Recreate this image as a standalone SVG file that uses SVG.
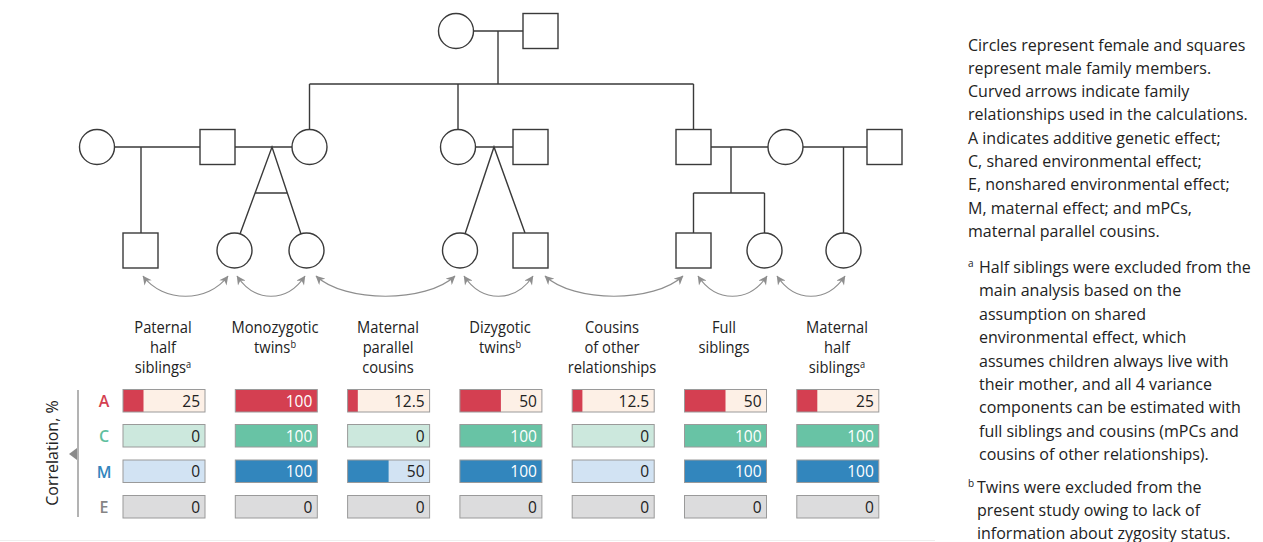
<svg xmlns="http://www.w3.org/2000/svg" width="1263" height="542" viewBox="0 0 1263 542">
<style>
.nd{fill:#fff;stroke:#3a3a3a;stroke-width:1.4}
.ln{fill:none;stroke:#3a3a3a;stroke-width:1.4}
.arr{fill:none;stroke:#8e8e8e;stroke-width:1.2;marker-start:url(#ah);marker-end:url(#ah)}
.lbl{font-family:"Open Sans","Noto Sans",sans-serif;font-size:16px;fill:#222;text-anchor:middle}
.sup{font-size:10px}
.note{font-family:"Open Sans","Noto Sans",sans-serif;font-size:16px;fill:#222}
.val{font-family:"Open Sans","Noto Sans",sans-serif;font-size:15.5px;text-anchor:end}
.dk{fill:#222}
.wt{fill:#fff}
.row{font-family:"Open Sans","Noto Sans",sans-serif;font-size:16px;font-weight:600;text-anchor:middle}
.bx{stroke:#9a9a9a;stroke-width:1}
.aL{fill:#fdf0e6}.aF{fill:#d43f51}
.cL{fill:#cce8dd}.cF{fill:#68c3a5}
.mL{fill:#d2e3f3}.mF{fill:#3286bd}
.eL{fill:#dcdcdd}
</style>
<defs>
<marker id="ah" viewBox="0 0 10 10" refX="9.5" refY="5" markerWidth="10" markerHeight="9" markerUnits="userSpaceOnUse" orient="auto-start-reverse">
<path d="M0,0 L10,5 L0,10 L3,5 z" fill="#8e8e8e"/>
</marker>
</defs>
<rect width="1263" height="542" fill="#fff"/>
<line x1="0" y1="540.5" x2="935" y2="540.5" stroke="#eeeeee" stroke-width="1"/>

<g id="connectors">
<path class="ln" d="M473.5,31 H523 M498,31 V84 M309.5,84 H693.5 M309.5,84 V129.5 M458,84 V129.5 M693.5,84 V129.5"/>
<path class="ln" d="M114.5,147 H200 M141,147 V233 M235,147 H292"/>
<path class="ln" d="M240,234 L272,147 L301,234 M255.1,193 H287.3"/>
<path class="ln" d="M475.5,147 H513 M465,234 L494,147 L525,233"/>
<path class="ln" d="M711,147 H768 M731,147 V193 M693.5,193 H764.5 M693.5,193 V233 M764.5,193 V233 M803,147 H867 M843.5,147 V233"/>
<path class="arr" d="M143,276 C163,303 208,303 228,276"/>
<path class="arr" d="M237,276 C255,303 287,303 305,276"/>
<path class="arr" d="M316,276 C345,303 426,303 455,276"/>
<path class="arr" d="M464,276 C482,303 515,303 533,276"/>
<path class="arr" d="M545,276 C574,303 654,303 683,276"/>
<path class="arr" d="M698,276 C716,303 749,303 767,276"/>
<path class="arr" d="M777,276 C795,303 827,303 845,276"/>
</g>

<g id="gp-f"><circle class="nd" cx="456" cy="31" r="17.5"/></g>
<g id="gp-m"><rect class="nd" x="523" y="13.5" width="35" height="35"/></g>
<g id="p1-f"><circle class="nd" cx="97" cy="147" r="17.5"/></g>
<g id="p1-m"><rect class="nd" x="200" y="129.5" width="35" height="35"/></g>
<g id="p2-f"><circle class="nd" cx="309.5" cy="147" r="17.5"/></g>
<g id="p3-f"><circle class="nd" cx="458" cy="147" r="17.5"/></g>
<g id="p3-m"><rect class="nd" x="513" y="129.5" width="35" height="35"/></g>
<g id="p4-m"><rect class="nd" x="676" y="129.5" width="35" height="35"/></g>
<g id="p4-f"><circle class="nd" cx="785.5" cy="147" r="17.5"/></g>
<g id="p5-m"><rect class="nd" x="867" y="129.5" width="35" height="35"/></g>
<g id="c1"><rect class="nd" x="123" y="233" width="35" height="35"/></g>
<g id="c2"><circle class="nd" cx="234.5" cy="250.5" r="17.5"/></g>
<g id="c3"><circle class="nd" cx="306.5" cy="250.5" r="17.5"/></g>
<g id="c4"><circle class="nd" cx="460" cy="250.5" r="17.5"/></g>
<g id="c5"><rect class="nd" x="513" y="233" width="35" height="35"/></g>
<g id="c6"><rect class="nd" x="676" y="233" width="35" height="35"/></g>
<g id="c7"><circle class="nd" cx="764.5" cy="250.5" r="17.5"/></g>
<g id="c8"><circle class="nd" cx="843.5" cy="250.5" r="17.5"/></g>

<g id="labels">
<text class="lbl" transform="translate(163,333) scale(0.92,1)"><tspan x="0" y="0">Paternal</tspan><tspan x="0" y="20">half</tspan><tspan x="0" y="40">siblings<tspan class="sup" dy="-5">a</tspan></tspan></text>
<text class="lbl" transform="translate(275,333) scale(0.92,1)"><tspan x="0" y="0">Monozygotic</tspan><tspan x="0" y="20.5">twins<tspan class="sup" dy="-5">b</tspan></tspan></text>
<text class="lbl" transform="translate(388,333) scale(0.92,1)"><tspan x="0" y="0">Maternal</tspan><tspan x="0" y="20">parallel</tspan><tspan x="0" y="40">cousins</tspan></text>
<text class="lbl" transform="translate(500,333) scale(0.92,1)"><tspan x="0" y="0">Dizygotic</tspan><tspan x="0" y="20.5">twins<tspan class="sup" dy="-5">b</tspan></tspan></text>
<text class="lbl" transform="translate(612,333) scale(0.92,1)"><tspan x="0" y="0">Cousins</tspan><tspan x="0" y="20">of other</tspan><tspan x="0" y="40">relationships</tspan></text>
<text class="lbl" transform="translate(724,333) scale(0.92,1)"><tspan x="0" y="0">Full</tspan><tspan x="0" y="20">siblings</tspan></text>
<text class="lbl" transform="translate(837,333) scale(0.92,1)"><tspan x="0" y="0">Maternal</tspan><tspan x="0" y="20">half</tspan><tspan x="0" y="40">siblings<tspan class="sup" dy="-5">a</tspan></tspan></text>
</g>

<g id="axis">
<line x1="78" y1="390" x2="78" y2="517" stroke="#9a9a9a" stroke-width="1.5"/>
<path d="M69,454 L77,448 L77,460 z" fill="#8a8a8a"/>
<text transform="translate(58,453) rotate(-90)" text-anchor="middle" font-family="'Open Sans','Noto Sans',sans-serif" font-size="16" fill="#222">Correlation, %</text>
<text class="row" x="104" y="406.5" fill="#d43f51">A</text>
<text class="row" x="104" y="442" fill="#5fbf9f">C</text>
<text class="row" x="104" y="477.5" fill="#3286bd">M</text>
<text class="row" x="104" y="513" fill="#858585">E</text>
</g>

<g id="col1">
<rect class="aL" x="123" y="389.5" width="82" height="22.5"/><rect class="aF" x="123" y="389.5" width="20.5" height="22.5"/><rect class="bx" fill="none" x="123" y="389.5" width="82" height="22.5"/><text class="val dk" x="200" y="406.5">25</text>
<rect class="cL bx" x="123" y="424.5" width="82" height="22.5"/><text class="val dk" x="200" y="441.5">0</text>
<rect class="mL bx" x="123" y="460" width="82" height="22.5"/><text class="val dk" x="200" y="477">0</text>
<rect class="eL bx" x="123" y="495.5" width="82" height="22.5"/><text class="val dk" x="200" y="512.5">0</text>
</g>
<g id="col2">
<rect class="aF bx" x="235.3" y="389.5" width="82" height="22.5"/><text class="val wt" x="312.3" y="406.5">100</text>
<rect class="cF bx" x="235.3" y="424.5" width="82" height="22.5"/><text class="val wt" x="312.3" y="441.5">100</text>
<rect class="mF bx" x="235.3" y="460" width="82" height="22.5"/><text class="val wt" x="312.3" y="477">100</text>
<rect class="eL bx" x="235.3" y="495.5" width="82" height="22.5"/><text class="val dk" x="312.3" y="512.5">0</text>
</g>
<g id="col3">
<rect class="aL" x="347.6" y="389.5" width="82" height="22.5"/><rect class="aF" x="347.6" y="389.5" width="10.2" height="22.5"/><rect class="bx" fill="none" x="347.6" y="389.5" width="82" height="22.5"/><text class="val dk" x="424.6" y="406.5">12.5</text>
<rect class="cL bx" x="347.6" y="424.5" width="82" height="22.5"/><text class="val dk" x="424.6" y="441.5">0</text>
<rect class="mL" x="347.6" y="460" width="82" height="22.5"/><rect class="mF" x="347.6" y="460" width="41" height="22.5"/><rect class="bx" fill="none" x="347.6" y="460" width="82" height="22.5"/><text class="val dk" x="424.6" y="477">50</text>
<rect class="eL bx" x="347.6" y="495.5" width="82" height="22.5"/><text class="val dk" x="424.6" y="512.5">0</text>
</g>
<g id="col4">
<rect class="aL" x="459.9" y="389.5" width="82" height="22.5"/><rect class="aF" x="459.9" y="389.5" width="41" height="22.5"/><rect class="bx" fill="none" x="459.9" y="389.5" width="82" height="22.5"/><text class="val dk" x="536.9" y="406.5">50</text>
<rect class="cF bx" x="459.9" y="424.5" width="82" height="22.5"/><text class="val wt" x="536.9" y="441.5">100</text>
<rect class="mF bx" x="459.9" y="460" width="82" height="22.5"/><text class="val wt" x="536.9" y="477">100</text>
<rect class="eL bx" x="459.9" y="495.5" width="82" height="22.5"/><text class="val dk" x="536.9" y="512.5">0</text>
</g>
<g id="col5">
<rect class="aL" x="572.2" y="389.5" width="82" height="22.5"/><rect class="aF" x="572.2" y="389.5" width="10.2" height="22.5"/><rect class="bx" fill="none" x="572.2" y="389.5" width="82" height="22.5"/><text class="val dk" x="649.2" y="406.5">12.5</text>
<rect class="cL bx" x="572.2" y="424.5" width="82" height="22.5"/><text class="val dk" x="649.2" y="441.5">0</text>
<rect class="mL bx" x="572.2" y="460" width="82" height="22.5"/><text class="val dk" x="649.2" y="477">0</text>
<rect class="eL bx" x="572.2" y="495.5" width="82" height="22.5"/><text class="val dk" x="649.2" y="512.5">0</text>
</g>
<g id="col6">
<rect class="aL" x="684.5" y="389.5" width="82" height="22.5"/><rect class="aF" x="684.5" y="389.5" width="41" height="22.5"/><rect class="bx" fill="none" x="684.5" y="389.5" width="82" height="22.5"/><text class="val dk" x="761.5" y="406.5">50</text>
<rect class="cF bx" x="684.5" y="424.5" width="82" height="22.5"/><text class="val wt" x="761.5" y="441.5">100</text>
<rect class="mF bx" x="684.5" y="460" width="82" height="22.5"/><text class="val wt" x="761.5" y="477">100</text>
<rect class="eL bx" x="684.5" y="495.5" width="82" height="22.5"/><text class="val dk" x="761.5" y="512.5">0</text>
</g>
<g id="col7">
<rect class="aL" x="796.8" y="389.5" width="82" height="22.5"/><rect class="aF" x="796.8" y="389.5" width="20.5" height="22.5"/><rect class="bx" fill="none" x="796.8" y="389.5" width="82" height="22.5"/><text class="val dk" x="873.8" y="406.5">25</text>
<rect class="cF bx" x="796.8" y="424.5" width="82" height="22.5"/><text class="val wt" x="873.8" y="441.5">100</text>
<rect class="mF bx" x="796.8" y="460" width="82" height="22.5"/><text class="val wt" x="873.8" y="477">100</text>
<rect class="eL bx" x="796.8" y="495.5" width="82" height="22.5"/><text class="val dk" x="873.8" y="512.5">0</text>
</g>

<g id="legend">
<text class="note" x="968">
<tspan x="968" y="50.5">Circles represent female and squares</tspan>
<tspan x="968" y="73.8">represent male family members.</tspan>
<tspan x="968" y="97.1">Curved arrows indicate family</tspan>
<tspan x="968" y="120.4">relationships used in the calculations.</tspan>
<tspan x="968" y="143.7">A indicates additive genetic effect;</tspan>
<tspan x="968" y="167">C, shared environmental effect;</tspan>
<tspan x="968" y="190.3">E, nonshared environmental effect;</tspan>
<tspan x="968" y="213.6">M, maternal effect; and mPCs,</tspan>
<tspan x="968" y="236.9">maternal parallel cousins.</tspan>
</text>
<text class="note">
<tspan x="968" y="267" class="sup">a</tspan><tspan x="979" y="273">Half siblings were excluded from the</tspan>
<tspan x="979" y="296.4">main analysis based on the</tspan>
<tspan x="979" y="319.8">assumption on shared</tspan>
<tspan x="979" y="343.2">environmental effect, which</tspan>
<tspan x="979" y="366.6">assumes children always live with</tspan>
<tspan x="979" y="390">their mother, and all 4 variance</tspan>
<tspan x="979" y="413.4">components can be estimated with</tspan>
<tspan x="979" y="436.8">full siblings and cousins (mPCs and</tspan>
<tspan x="979" y="460.2">cousins of other relationships).</tspan>
</text>
<text class="note">
<tspan x="968" y="487" class="sup">b</tspan><tspan x="977" y="493">Twins were excluded from the</tspan>
<tspan x="977" y="516.4">present study owing to lack of</tspan>
<tspan x="977" y="538.5">information about zygosity status.</tspan>
</text>
</g>
</svg>
